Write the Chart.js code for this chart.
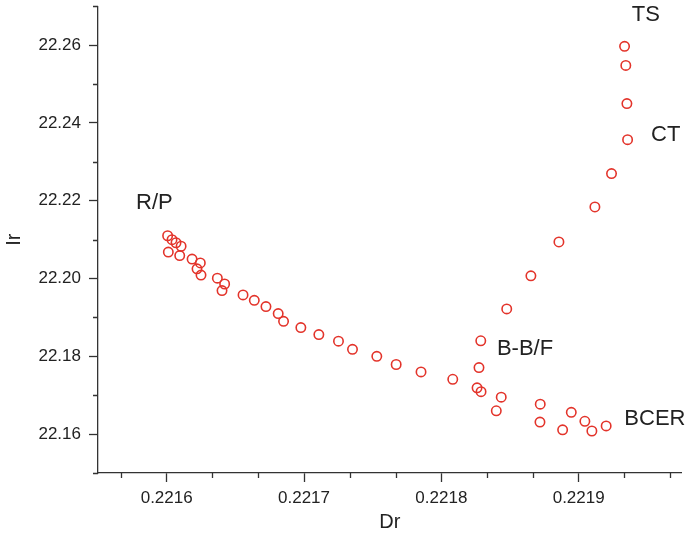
<!DOCTYPE html>
<html>
<head>
<meta charset="utf-8">
<script src="https://cdn.jsdelivr.net/npm/chart.js@4"></script>
<style>
  html, body { margin: 0; padding: 0; background: #fff; }
  #wrap { width: 688px; height: 545px; position: relative; }
</style>
</head>
<body>
<div id="wrap"><canvas id="chart"></canvas></div>
<script>
// data
const dr = [
  0.2216007, 0.2216039, 0.2216068, 0.2216105, 0.2216012, 0.2216095, 0.2216185, 0.2216245,
  0.2216221, 0.2216250, 0.2216369, 0.2216422, 0.2216403, 0.2216556, 0.2216638, 0.2216723,
  0.2216812, 0.2216851, 0.2216977, 0.2217108, 0.2217251, 0.2217353, 0.2217530, 0.2217671,
  0.2217852, 0.2218083, 0.2218260, 0.2218289, 0.2218274, 0.2218287, 0.2218476, 0.2218436,
  0.2218400, 0.2218720, 0.2218718, 0.2218946, 0.2218883, 0.2219045, 0.2219096, 0.2219200,
  0.2219334, 0.2219343, 0.2219351, 0.2219356, 0.2219239, 0.2219118, 0.2218856, 0.2218652
];
const ir = [
  22.2110, 22.2100, 22.2092, 22.2083, 22.2068, 22.2059, 22.2050, 22.2040,
  22.2025, 22.2009, 22.2001, 22.1986, 22.1969, 22.1958, 22.1944, 22.1928,
  22.1910, 22.1890, 22.1874, 22.1856, 22.1839, 22.1818, 22.1800, 22.1779,
  22.1760, 22.1741, 22.1719, 22.1709, 22.1771, 22.1840, 22.1922, 22.1695,
  22.1660, 22.1677, 22.1631, 22.1656, 22.1611, 22.1633, 22.1608, 22.1621,
  22.2597, 22.2548, 22.2450, 22.2357, 22.2270, 22.2184, 22.2094, 22.2007
];

// axis ticks
const xTicks = [0.2216, 0.2217, 0.2218, 0.2219];
const yTicks = [22.16, 22.18, 22.20, 22.22, 22.24, 22.26];

// region labels (data coords)
const noteText = ['TS', 'CT', 'R/P', 'B-B/F', 'BCER'];
const noteX = [0.2219489, 0.2219634, 0.2215911, 0.2218609, 0.2219555];
const noteY = [22.2679, 22.2370, 22.2195, 22.1820, 22.1640];

const FONT = "'Liberation Sans', Arial, sans-serif";
const AXIS = '#333';

const points = dr.map((x, i) => ({ x: x, y: ir[i] }));

// text labels next to the point groups
const notesPlugin = {
  id: 'notes',
  afterDatasetsDraw(chart) {
    const ctx = chart.ctx;
    const xs = chart.scales.x, ys = chart.scales.y;
    ctx.save();
    ctx.font = '22px ' + FONT;
    ctx.fillStyle = '#222';
    ctx.textAlign = 'center';
    ctx.textBaseline = 'middle';
    noteText.forEach((t, i) => {
      ctx.fillText(t, xs.getPixelForValue(noteX[i]), ys.getPixelForValue(noteY[i]));
    });
    ctx.restore();
  }
};

// short minor ticks between the major ones
const minorPlugin = {
  id: 'minor',
  afterDraw(chart) {
    const ctx = chart.ctx;
    const xs = chart.scales.x, ys = chart.scales.y;
    const a = chart.chartArea;
    ctx.save();
    ctx.strokeStyle = AXIS;
    ctx.lineWidth = 1.3;
    ctx.beginPath();
    const xStep = 0.0001 / 3;
    for (let k = -3; k <= 12; k++) {
      if (k % 3 === 0) continue;
      const v = xTicks[0] + k * xStep;
      if (v < xs.min - 1e-9 || v > xs.max + 1e-9) continue;
      const px = Math.round(xs.getPixelForValue(v)) + 0.5;
      ctx.moveTo(px, a.bottom);
      ctx.lineTo(px, a.bottom + 5);
    }
    for (let k = -1; k <= 11; k += 2) {
      const v = yTicks[0] + k * 0.01;
      if (v < ys.min - 1e-9 || v > ys.max + 1e-9) continue;
      const py = Math.round(ys.getPixelForValue(v)) + 0.5;
      ctx.moveTo(a.left, py);
      ctx.lineTo(a.left - 5, py);
    }
    ctx.stroke();
    ctx.restore();
  }
};

new Chart(document.getElementById('chart'), {
  type: 'scatter',
  data: {
    datasets: [{
      data: points,
      pointStyle: 'circle',
      pointRadius: 4.7,
      pointHoverRadius: 4.7,
      pointBorderWidth: 1.6,
      borderColor: '#e3342b',
      backgroundColor: 'rgba(255,255,255,0)'
    }]
  },
  options: {
    responsive: true,
    maintainAspectRatio: false,
    animation: false,
    events: [],
    layout: { padding: { top: 6, right: 5, left: 0, bottom: 0 } },
    plugins: {
      legend: { display: false },
      tooltip: { enabled: false }
    },
    scales: {
      x: {
        type: 'linear',
        min: 0.22155,
        max: 0.221975,
        afterBuildTicks: (s) => { s.ticks = xTicks.map(v => ({ value: v })); },
        afterFit: (s) => { s.height = 72; s.paddingLeft = 0; s.paddingRight = 0; },
        grid: { drawOnChartArea: false, drawTicks: true, tickLength: 9, tickColor: AXIS, tickWidth: 1.3 },
        border: { display: true, color: AXIS, width: 1.3 },
        ticks: {
          padding: 6,
          color: '#222',
          font: { family: FONT, size: 17 },
          maxRotation: 0,
          callback: (v) => v.toFixed(4)
        },
        title: {
          display: true,
          text: 'Dr',
          color: '#222',
          font: { family: FONT, size: 20 },
          padding: { top: 0, bottom: 11 }
        }
      },
      y: {
        type: 'linear',
        min: 22.15,
        max: 22.27,
        afterBuildTicks: (s) => { s.ticks = yTicks.map(v => ({ value: v })); },
        afterFit: (s) => { s.width = 98; s.paddingTop = 0; s.paddingBottom = 0; },
        grid: { drawOnChartArea: false, drawTicks: true, tickLength: 9, tickColor: AXIS, tickWidth: 1.3 },
        border: { display: true, color: AXIS, width: 1.3 },
        ticks: {
          padding: 8,
          color: '#222',
          font: { family: FONT, size: 17 },
          callback: (v) => v.toFixed(2)
        },
        title: {
          display: true,
          text: 'Ir',
          color: '#222',
          font: { family: FONT, size: 20 },
          padding: { top: 2, bottom: 0 }
        }
      }
    }
  },
  plugins: [notesPlugin, minorPlugin]
});
</script>
</body>
</html>
